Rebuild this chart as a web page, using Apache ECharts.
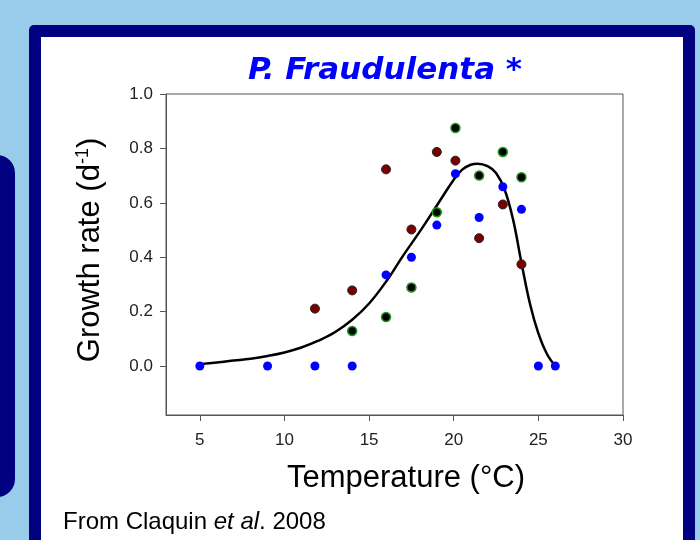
<!DOCTYPE html>
<html>
<head>
<meta charset="utf-8">
<script src="https://cdn.jsdelivr.net/npm/echarts@6/dist/echarts.min.js"></script>
<style>
  html, body { margin: 0; padding: 0; background: #99cceb; }
  #main { width: 700px; height: 540px; }
</style>
</head>
<body>
<div id="main"></div>
<script>
// measured growth rates (d-1) vs temperature
var blueX = [5, 9, 11.8, 14, 16, 17.5, 19, 20.1, 21.5, 22.9, 24, 25, 26];
var blueY = [0, 0, 0, 0, 0.335, 0.40, 0.518, 0.707, 0.546, 0.659, 0.576, 0, 0];

var redX = [11.8, 14, 16, 17.5, 19, 20.1, 21.5, 22.9, 24];
var redY = [0.211, 0.278, 0.723, 0.502, 0.787, 0.755, 0.470, 0.594, 0.374];

var greenX = [14, 16, 17.5, 19, 20.1, 21.5, 22.9, 24];
var greenY = [0.129, 0.180, 0.289, 0.565, 0.875, 0.700, 0.787, 0.694];

// fitted curve
var fitX = [5, 6, 7, 8, 9, 10, 11, 12, 13, 14, 15, 16, 17, 18, 19, 20, 20.5, 21, 21.4, 22, 22.5, 23, 23.5, 24, 24.5, 25, 25.5, 26];
var fitY = [0.007, 0.013, 0.02, 0.027, 0.037, 0.05, 0.068, 0.093, 0.125, 0.17, 0.23, 0.31, 0.405, 0.495, 0.59, 0.685, 0.722, 0.740, 0.744, 0.735, 0.71, 0.65, 0.54, 0.38, 0.23, 0.12, 0.045, 0];

var xTicks = [5, 10, 15, 20, 25, 30];
var yTicks = [0, 0.2, 0.4, 0.6, 0.8, 1.0];

function pairs(xs, ys) {
    return xs.map(function (x, i) { return [x, ys[i]]; });
}

var axisColor = '#555';
var font = 'Liberation Sans, Arial, sans-serif';

var option = {
    backgroundColor: '#99cceb',
    animation: false,
    title: {
        text: 'P. Fraudulenta *',
        left: 243,
        top: 50,
        textStyle: {
            color: '#0000ff',
            fontFamily: 'DejaVu Sans',
            fontStyle: 'italic',
            fontWeight: 'bold',
            fontSize: 31
        }
    },
    graphic: [
        { type: 'rect', z: -10, shape: { x: -30, y: 155, width: 45, height: 342, r: 18 }, style: { fill: '#000080' } },
        { type: 'rect', z: -10, shape: { x: 29, y: 25, width: 666, height: 560, r: 5 }, style: { fill: '#000080' } },
        { type: 'rect', z: -9, shape: { x: 41, y: 37, width: 642, height: 540 }, style: { fill: '#ffffff' } },
        {
            type: 'text', x: 406, y: 478,
            style: { text: 'Temperature (°C)', fill: '#000', font: '31px ' + font, align: 'center', verticalAlign: 'middle' }
        },
        {
            type: 'text', x: 90, y: 250, rotation: Math.PI / 2,
            style: {
                text: '{a|Growth rate (d}{s|-1}{a|)}',
                align: 'center', verticalAlign: 'middle',
                rich: {
                    a: { fontSize: 31, fontFamily: font, fill: '#000' },
                    s: { fontSize: 18, fontFamily: font, fill: '#000', verticalAlign: 'top', padding: [0, 0, 14, 0] }
                }
            }
        },
        {
            type: 'text', left: 63, top: 510,
            style: {
                text: '{a|From Claquin }{i|et al}{a|. 2008}',
                rich: {
                    a: { fontSize: 24, fontFamily: font, fill: '#000' },
                    i: { fontSize: 24, fontFamily: font, fontStyle: 'italic', fill: '#000' }
                }
            }
        }
    ],
    grid: {
        left: 166,
        right: 77,
        top: 94,
        bottom: 125,
        show: true,
        backgroundColor: '#fff',
        borderColor: axisColor,
        borderWidth: 1
    },
    xAxis: {
        type: 'value',
        min: 3,
        max: 30,
        splitLine: { show: false },
        axisLine: { onZero: false, lineStyle: { color: axisColor } },
        axisTick: { customValues: xTicks, length: 6, lineStyle: { color: axisColor } },
        axisLabel: { customValues: xTicks, margin: 17, fontSize: 17, fontFamily: font, color: '#222' }
    },
    yAxis: {
        type: 'value',
        min: -0.18,
        max: 1.0,
        splitLine: { show: false },
        axisLine: { onZero: false, lineStyle: { color: axisColor } },
        axisTick: { customValues: yTicks, length: 6, lineStyle: { color: axisColor } },
        axisLabel: {
            customValues: yTicks, margin: 13, fontSize: 17, fontFamily: font, color: '#222',
            formatter: function (v) { return v.toFixed(1); }
        }
    },
    series: [
        {
            name: 'fit',
            type: 'line',
            data: pairs(fitX, fitY),
            smooth: 0.4,
            showSymbol: false,
            lineStyle: { color: '#000', width: 2.5 },
            z: 2
        },
        {
            name: 'blue',
            type: 'scatter',
            data: pairs(blueX, blueY),
            symbolSize: 9,
            itemStyle: { color: '#0000ff', opacity: 1 },
            z: 3
        },
        {
            name: 'red',
            type: 'scatter',
            data: pairs(redX, redY),
            symbolSize: 9,
            itemStyle: { color: '#7a0000', borderColor: '#222', borderWidth: 1, opacity: 1 },
            z: 3
        },
        {
            name: 'green',
            type: 'scatter',
            data: pairs(greenX, greenY),
            symbolSize: 9,
            itemStyle: { color: '#000', borderColor: '#1a9a1a', borderWidth: 1.5, opacity: 1 },
            z: 3
        }
    ]
};

var chart = echarts.init(document.getElementById('main'));
chart.setOption(option);
</script>
</body>
</html>
